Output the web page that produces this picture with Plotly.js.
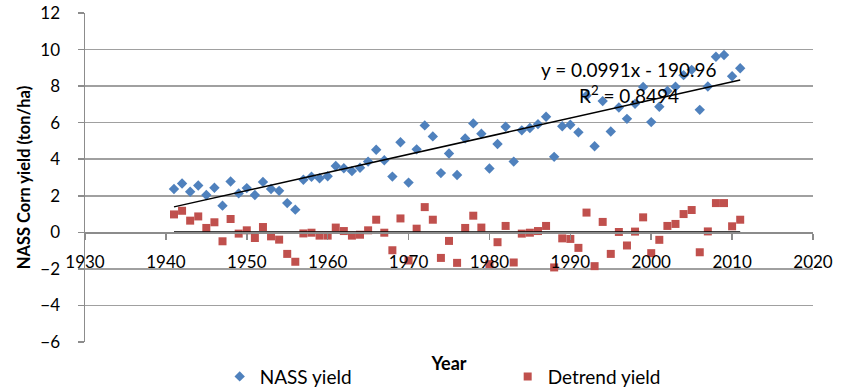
<!DOCTYPE html>
<html>
<head>
<meta charset="utf-8">
<script src="https://cdn.plot.ly/plotly-3.0.1.min.js"></script>
<style>
  html, body { margin: 0; padding: 0; background: #ffffff; }
  #chart { width: 849px; height: 388px; }
</style>
</head>
<body>
<div id="chart"></div>
<script>
// Harvest years
const years = [
  1941, 1942, 1943, 1944, 1945, 1946, 1947, 1948, 1949, 1950,
  1951, 1952, 1953, 1954, 1955, 1956, 1957, 1958, 1959, 1960,
  1961, 1962, 1963, 1964, 1965, 1966, 1967, 1968, 1969, 1970,
  1971, 1972, 1973, 1974, 1975, 1976, 1977, 1978, 1979, 1980,
  1981, 1982, 1983, 1984, 1985, 1986, 1987, 1988, 1989, 1990,
  1991, 1992, 1993, 1994, 1995, 1996, 1997, 1998, 1999, 2000,
  2001, 2002, 2003, 2004, 2005, 2006, 2007, 2008, 2009, 2010,
  2011
];

// NASS corn yield (ton/ha)
const nassYield = [
  2.37, 2.67, 2.22, 2.56, 2.04, 2.44, 1.46, 2.78, 2.13, 2.42,
  2.04, 2.76, 2.37, 2.27, 1.60, 1.24, 2.88, 3.04, 2.96, 3.07,
  3.63, 3.51, 3.35, 3.53, 3.87, 4.52, 3.94, 3.05, 4.93, 2.72,
  4.54, 5.85, 5.25, 3.24, 4.31, 3.14, 5.14, 5.96, 5.40, 3.49,
  4.83, 5.78, 3.87, 5.58, 5.71, 5.92, 6.32, 4.13, 5.80, 5.89,
  5.47, 7.48, 4.71, 7.18, 5.52, 6.83, 6.21, 7.03, 7.95, 6.03,
  6.87, 7.73, 7.97, 8.60, 8.89, 6.70, 7.98, 9.61, 9.70, 8.54,
  8.98
];

// Detrended yield (ton/ha)
const detrendYield = [
  0.98, 1.18, 0.64, 0.87, 0.24, 0.55, -0.49, 0.73, -0.07, 0.11,
  -0.31, 0.29, -0.22, -0.40, -1.18, -1.61, -0.06, -0.02, -0.18, -0.18,
  0.26, 0.07, -0.18, -0.13, 0.11, 0.69, -0.02, -0.98, 0.76, -1.54,
  0.20, 1.38, 0.69, -1.40, -0.47, -1.67, 0.24, 0.91, 0.26, -1.74,
  -0.54, 0.35, -1.65, -0.07, -0.02, 0.07, 0.35, -1.92, -0.33, -0.36,
  -0.85, 1.08, -1.85, 0.57, -1.18, 0.02, -0.72, 0.04, 0.82, -1.14,
  -0.41, 0.35, 0.46, 1.00, 1.22, -1.09, 0.05, 1.60, 1.60, 0.33,
  0.69
];

// Linear fit of the NASS series: y = 0.0991x - 190.96
const trendSlope = 0.0991;
const trendIntercept = -190.96;
const trendR2 = 0.8494;

// Fit of the detrended series (flat at zero)
const detrendSlope = 0;
const detrendIntercept = 0;

// Axis tick values
const xTicks = [1930, 1940, 1950, 1960, 1970, 1980, 1990, 2000, 2010, 2020];
const yTicks = [-6, -4, -2, 0, 2, 4, 6, 8, 10, 12];

const fitX = [years[0], years[years.length - 1]];
const nassFitY = fitX.map(x => trendSlope * x + trendIntercept);
const detrendFitY = fitX.map(x => detrendSlope * x + detrendIntercept);

const FONT = 'Lato, "Open Sans", "Liberation Sans", sans-serif';
const GRID = '#a0a0a0';
const AXIS = '#8c8c8c';

const traces = [
  {
    x: years, y: nassYield, name: 'NASS yield',
    type: 'scatter', mode: 'markers',
    marker: { symbol: 'diamond', size: 8, color: '#4f81bd' }
  },
  {
    x: years, y: detrendYield, name: 'Detrend yield',
    type: 'scatter', mode: 'markers',
    marker: { symbol: 'square', size: 8, color: '#c0504d' }
  },
  {
    x: fitX, y: nassFitY, type: 'scatter', mode: 'lines',
    line: { color: '#000000', width: 1.5 }, showlegend: false, hoverinfo: 'skip'
  },
  {
    x: fitX, y: detrendFitY, type: 'scatter', mode: 'lines',
    line: { color: '#000000', width: 2.2 }, showlegend: false, hoverinfo: 'skip'
  }
];

const layout = {
  width: 849,
  height: 388,
  margin: { l: 85, r: 36, t: 13, b: 46, autoexpand: false },
  paper_bgcolor: '#ffffff',
  plot_bgcolor: '#ffffff',
  font: { family: FONT, color: '#000000', size: 16 },
  showlegend: true,
  legend: {
    orientation: 'h',
    x: 0.185, xanchor: 'left',
    y: -0.105, yanchor: 'middle',
    font: { family: FONT, size: 19, color: '#000000' },
    entrywidth: 243, entrywidthmode: 'pixels',
    bgcolor: 'rgba(0,0,0,0)', borderwidth: 0
  },
  xaxis: {
    range: [1930, 2020], automargin: false,
    tickmode: 'array', tickvals: xTicks,
    showgrid: false, zeroline: false,
    showline: true, linecolor: AXIS, linewidth: 1.5,
    ticks: 'outside', ticklen: 6, tickcolor: AXIS, tickwidth: 1.5,
    ticklabelstandoff: 8,
    tickfont: { family: FONT, size: 17, color: '#000000' },
    anchor: 'free', position: 1 / 3,
    title: {
      text: 'Year', standoff: 86,
      font: { family: FONT, size: 18, color: '#000000', weight: 'bold' }
    }
  },
  yaxis: {
    range: [-6, 12], automargin: false,
    tickmode: 'array', tickvals: yTicks,
    showgrid: true, gridcolor: GRID, gridwidth: 1.5,
    zeroline: false,
    showline: true, linecolor: AXIS, linewidth: 1.5,
    ticks: 'outside', ticklen: 6, tickcolor: AXIS, tickwidth: 1.5,
    ticklabelstandoff: 14,
    tickfont: { family: FONT, size: 17, color: '#000000' },
    title: {
      text: 'NASS Corn yield (ton/ha)', standoff: 5,
      font: { family: FONT, size: 16.5, color: '#000000', weight: 'bold' }
    }
  },
  annotations: [
    {
      x: 1997.3, y: 8.9, xref: 'x', yref: 'y',
      text: 'y = ' + trendSlope + 'x - ' + Math.abs(trendIntercept).toFixed(2),
      showarrow: false, xanchor: 'center', yanchor: 'middle',
      font: { family: FONT, size: 19, color: '#000000' }
    },
    {
      x: 1997.2, y: 7.54, xref: 'x', yref: 'y',
      text: 'R<sup>2</sup> = ' + trendR2.toFixed(4),
      showarrow: false, xanchor: 'center', yanchor: 'middle',
      font: { family: FONT, size: 19, color: '#000000' }
    }
  ]
};

Plotly.newPlot('chart', traces, layout, { displayModeBar: false, staticPlot: true });
</script>
</body>
</html>
